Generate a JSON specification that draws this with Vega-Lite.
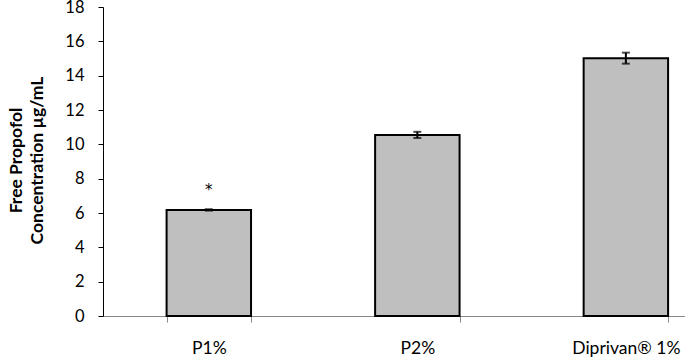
{
  "$schema": "https://vega.github.io/schema/vega-lite/v6.json",
  "width": 582,
  "height": 309,
  "autosize": {"type": "none"},
  "padding": {"left": 103, "top": 7, "right": 0, "bottom": 43},
  "background": "white",
  "config": {"view": {"stroke": null}, "font": "Lato"},
  "data": {
    "values": [
      {"group": "P1%", "mean": 6.18, "err": 0.04, "sig": "*"},
      {"group": "P2%", "mean": 10.55, "err": 0.18, "sig": ""},
      {"group": "Diprivan® 1%", "mean": 15.02, "err": 0.32, "sig": ""}
    ]
  },
  "encoding": {
    "x": {
      "field": "group",
      "type": "nominal",
      "sort": null,
      "scale": {"paddingInner": 0.595, "paddingOuter": 0.193, "align": 0.79},
      "axis": {
        "title": null,
        "labelAngle": 0,
        "labelFont": "Lato",
        "labelFontSize": 17.5,
        "labelColor": "#000000",
        "labelPadding": 17,
        "domainColor": "#888888",
        "domainWidth": 1,
        "tickColor": "#888888",
        "tickSize": 6,
        "tickBand": "extent"
      }
    },
    "y": {
      "field": "mean",
      "type": "quantitative",
      "scale": {"domain": [0, 18], "nice": false},
      "axis": {
        "values": [0, 2, 4, 6, 8, 10, 12, 14, 16, 18],
        "grid": false,
        "title": ["Free Propofol", "Concentration µg/mL"],
        "titleFont": "Lato",
        "titleFontSize": 17.5,
        "titleFontWeight": "bold",
        "titleColor": "#000000",
        "titleAngle": -90,
        "titleAlign": "center",
        "titleBaseline": "alphabetic",
        "titleLineHeight": 21,
        "titleX": -82,
        "titleY": 153,
        "labelFont": "Lato",
        "labelFontSize": 16.5,
        "labelColor": "#000000",
        "labelPadding": 14,
        "domainColor": "#000000",
        "domainWidth": 1,
        "tickColor": "#000000",
        "tickSize": 5
      }
    }
  },
  "layer": [
    {
      "mark": {"type": "bar", "fill": "#bfbfbf", "stroke": "#000000", "strokeWidth": 2}
    },
    {
      "mark": {
        "type": "errorbar",
        "color": "#000000",
        "thickness": 2,
        "ticks": {"size": 8, "thickness": 2, "color": "#000000"}
      },
      "encoding": {
        "yError": {"field": "err"}
      }
    },
    {
      "mark": {"type": "text", "fontSize": 15, "dy": -15, "baseline": "alphabetic", "color": "#000000", "font": "DejaVu Sans"},
      "encoding": {
        "text": {"field": "sig", "type": "nominal"}
      }
    }
  ]
}
